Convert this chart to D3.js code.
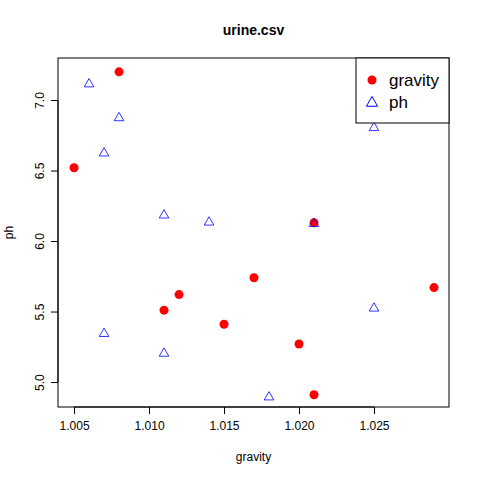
<!DOCTYPE html>
<html>
<head>
<meta charset="utf-8">
<script src="https://cdn.jsdelivr.net/npm/d3@7"></script>
<style>body{margin:0;background:#fff}text{font-family:"Liberation Sans",Arial,sans-serif}</style>
</head>
<body>
<script>
var gravity = [1.005, 1.008, 1.011, 1.012, 1.015, 1.017, 1.020, 1.021, 1.021, 1.029];
var gravityPh = [6.52, 7.20, 5.51, 5.62, 5.41, 5.74, 5.27, 4.91, 6.13, 5.67];
var phX = [1.006, 1.008, 1.007, 1.011, 1.014, 1.021, 1.025, 1.025, 1.007, 1.011, 1.018];
var phY = [7.12, 6.88, 6.63, 6.19, 6.14, 6.13, 6.81, 5.53, 5.35, 5.21, 4.90];
var xTicks = [1.005, 1.010, 1.015, 1.020, 1.025];
var yTicks = [5.0, 5.5, 6.0, 6.5, 7.0];

var w = 480, h = 480, L = 58, R = 449, T = 58, B = 407;
var svg = d3.select('body').append('svg').attr('width', w).attr('height', h);
var x = d3.scaleLinear().domain([1.00393, 1.0300]).range([L, R]);
var y = d3.scaleLinear().domain([4.823, 7.298]).range([B, T]);

svg.append('rect').attr('x', L).attr('y', T).attr('width', R - L).attr('height', B - T)
   .attr('fill', 'none').attr('stroke', '#000');

var xa = svg.append('g').attr('transform', 'translate(0,' + B + ')')
   .call(d3.axisBottom(x).tickValues(xTicks).tickFormat(d3.format('.3f')).tickSize(7).tickSizeOuter(0));
xa.select('.domain').attr('d', 'M' + x(1.005) + ',0H' + x(1.025));
xa.selectAll('text').attr('font-size', 12).attr('dy', '1.1em').attr('fill', '#000');

var ya = svg.append('g').attr('transform', 'translate(' + L + ',0)')
   .call(d3.axisLeft(y).tickValues(yTicks).tickFormat(d3.format('.1f')).tickSize(7).tickSizeOuter(0));
ya.select('.domain').attr('d', 'M0,' + y(5) + 'V' + y(7));
ya.selectAll('.tick text').attr('font-size', 12).attr('text-anchor', 'middle').attr('fill', '#000')
  .attr('transform', 'rotate(-90)').attr('x', 0).attr('y', -18).attr('dy', '0.32em');

svg.append('text').attr('x', (L + R) / 2).attr('y', 35).attr('text-anchor', 'middle')
   .attr('font-size', 14).attr('font-weight', 'bold').text('urine.csv');
svg.append('text').attr('x', (L + R) / 2).attr('y', 461).attr('text-anchor', 'middle')
   .attr('font-size', 12).text('gravity');
svg.append('text').attr('transform', 'translate(13,' + ((T + B) / 2) + ') rotate(-90)')
   .attr('text-anchor', 'middle').attr('font-size', 12).text('ph');

svg.selectAll('.g').data(gravity).enter().append('circle')
   .attr('cx', function(d){ return x(d); }).attr('cy', function(d, i){ return y(gravityPh[i]); })
   .attr('r', 4.5).attr('fill', '#ff0000');
var tri = d3.symbol().type(d3.symbolTriangle).size(40);
svg.selectAll('.ph').data(phX).enter().append('path')
   .attr('d', tri).attr('transform', function(d, i){ return 'translate(' + x(d) + ',' + (y(phY[i]) + 1) + ')'; })
   .attr('fill', 'none').attr('stroke', '#0000ff').attr('stroke-width', 0.8);

var lg = svg.append('g');
lg.append('rect').attr('x', 356).attr('y', T).attr('width', R - 356).attr('height', 65)
  .attr('fill', '#fff').attr('stroke', '#000');
lg.append('circle').attr('cx', 372).attr('cy', 80).attr('r', 4.5).attr('fill', '#ff0000');
lg.append('path').attr('d', d3.symbol().type(d3.symbolTriangle).size(55))
  .attr('transform', 'translate(372,103)').attr('fill', 'none').attr('stroke', '#0000ff');
lg.append('text').attr('x', 389).attr('y', 86).attr('font-size', 17).text('gravity');
lg.append('text').attr('x', 389).attr('y', 108).attr('font-size', 17).text('ph');
</script>
</body>
</html>
